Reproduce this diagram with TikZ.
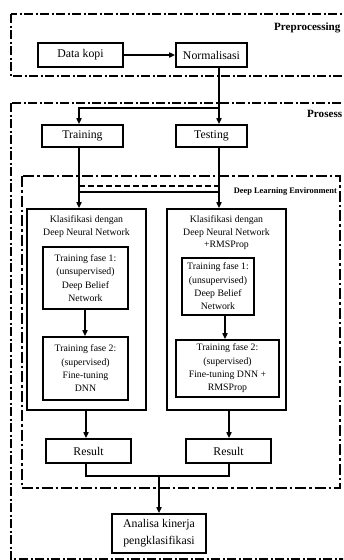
\documentclass[tikz,border=0pt]{standalone}
\usepackage{fontspec}
\setmainfont{Liberation Serif}
\usetikzlibrary{arrows.meta}
\begin{document}
\begin{tikzpicture}[x=1pt,y=-1pt,
 box/.style={draw,line width=1.6pt,inner sep=0pt,align=center,font=\fontsize{11.8}{14}\selectfont},
 sbox/.style={box,font=\fontsize{9.8}{13.3}\selectfont},
 conn/.style={line width=1.8pt},
 arr/.style={conn,-{Triangle[length=6pt,width=5pt]}},
 grp/.style={line width=1.5pt,dash pattern=on 9pt off 2.5pt on 2pt off 2.5pt},
 dle/.style={line width=2.6pt,dash pattern=on 11pt off 3pt on 2.5pt off 3pt},
 lbl/.style={inner sep=0pt}]
\useasboundingbox (0,0) rectangle (343,560);
\fill[white] (0,0) rectangle (343,560);
\begin{scope}
\clip (0,0) rectangle (343,560);
% group frames
\draw[grp] (11,14) rectangle (360,76);
\draw[grp] (11,103) rectangle (360,559);
\node[lbl,anchor=west,font=\bfseries\fontsize{11.1}{14}\selectfont] (prelbl) at (274,28) {Preprocessing};
\node[lbl,anchor=west,font=\bfseries\fontsize{11.1}{14}\selectfont] (proslbl) at (307,114) {Prosess};
\draw[dle] (22,176) rectangle (340,488);
\node[lbl,anchor=east,font=\bfseries\fontsize{8.4}{10}\selectfont] (dlelbl) at (337,192) {Deep Learning Environment};

% coordinates
\coordinate (xA) at (219,0);
\coordinate (xB) at (79,0);
\coordinate (xC) at (85,0);
\coordinate (xD) at (225,0);
\coordinate (xE) at (86,0);
\coordinate (xF) at (229,0);
\coordinate (xG) at (159,0);
\coordinate (ysplit) at (0,108);
\coordinate (yd) at (0,186);
\coordinate (ys) at (0,192);
\coordinate (yj) at (0,476);

% nodes
\node[box,minimum width=85pt,minimum height=24pt] (data) at (80.5,55) {Data kopi};
\node[box,minimum width=71pt,minimum height=24pt] (norm) at (211.5,55) {Normalisasi};
\node[box,minimum width=81pt,minimum height=22pt] (train) at (82.5,136) {Training};
\node[box,minimum width=71pt,minimum height=22pt] (test) at (211.5,136) {Testing};

\node[box,minimum width=119pt,minimum height=201pt] (klL) at (86.5,309.5) {};
\node[box,minimum width=119pt,minimum height=201pt] (klR) at (226.5,309.5) {};
\node[lbl,anchor=north,align=center,font=\fontsize{9.8}{12.5}\selectfont] (tL) at (86.5,215.5) {Klasifikasi dengan\\Deep Neural Network};
\node[lbl,anchor=north,align=center,font=\fontsize{9.8}{12.5}\selectfont] (tR) at (226.5,215.5) {Klasifikasi dengan\\Deep Neural Network\\+RMSProp};

\node[sbox,minimum width=85pt,minimum height=62pt] (l1) at (85.5,278) {Training fase 1:\\(unsupervised)\\Deep Belief\\Network};
\node[sbox,minimum width=85pt,minimum height=63pt] (l2) at (85.5,368.5) {Training fase 2:\\(supervised)\\Fine-tuning\\DNN};
\node[sbox,minimum width=72pt,minimum height=57pt] (r1) at (218,286.5) {Training fase 1:\\(unsupervised)\\Deep Belief\\Network};
\node[sbox,minimum width=103pt,minimum height=57pt] (r2) at (227.5,368.5) {Training fase 2:\\(supervised)\\Fine-tuning DNN +\\RMSProp};

\node[box,minimum width=85pt,minimum height=24pt] (resL) at (88.5,451) {Result};
\node[box,minimum width=85pt,minimum height=24pt] (resR) at (228.5,451) {Result};
\node[box,minimum width=94pt,minimum height=39pt,font=\fontsize{11.8}{17}\selectfont] (ana) at (159,533.5) {Analisa kinerja\\pengklasifikasi};

% connectors
\draw[arr] (data) -- (norm);
\draw[arr] (norm.south -| xA) -- (test.north -| xA);
\draw[arr] (xA |- ysplit) -| (train.north -| xB);
\draw[arr] (train.south -| xB) -- (klL.north -| xB);
\draw[arr] (test.south -| xA) -- (klR.north -| xA);
\draw[line width=1.4pt,dash pattern=on 6pt off 3pt] (xB |- yd) -- (xA |- yd);
\draw[line width=1.4pt] (xB |- ys) -- (xA |- ys);
\draw[arr] (l1.south -| xC) -- (l2.north -| xC);
\draw[arr] (r1.south -| xD) -- (r2.north -| xD);
\draw[arr] (klL.south -| xE) -- (resL.north -| xE);
\draw[arr] (klR.south -| xF) -- (resR.north -| xF);
\draw[line width=1.5pt] (resL.south -| xE) |- (xF |- yj) -- (resR.south -| xF);
\draw[arr] (xG |- yj) -- (ana.north);
\end{scope}
\end{tikzpicture}
\end{document}
